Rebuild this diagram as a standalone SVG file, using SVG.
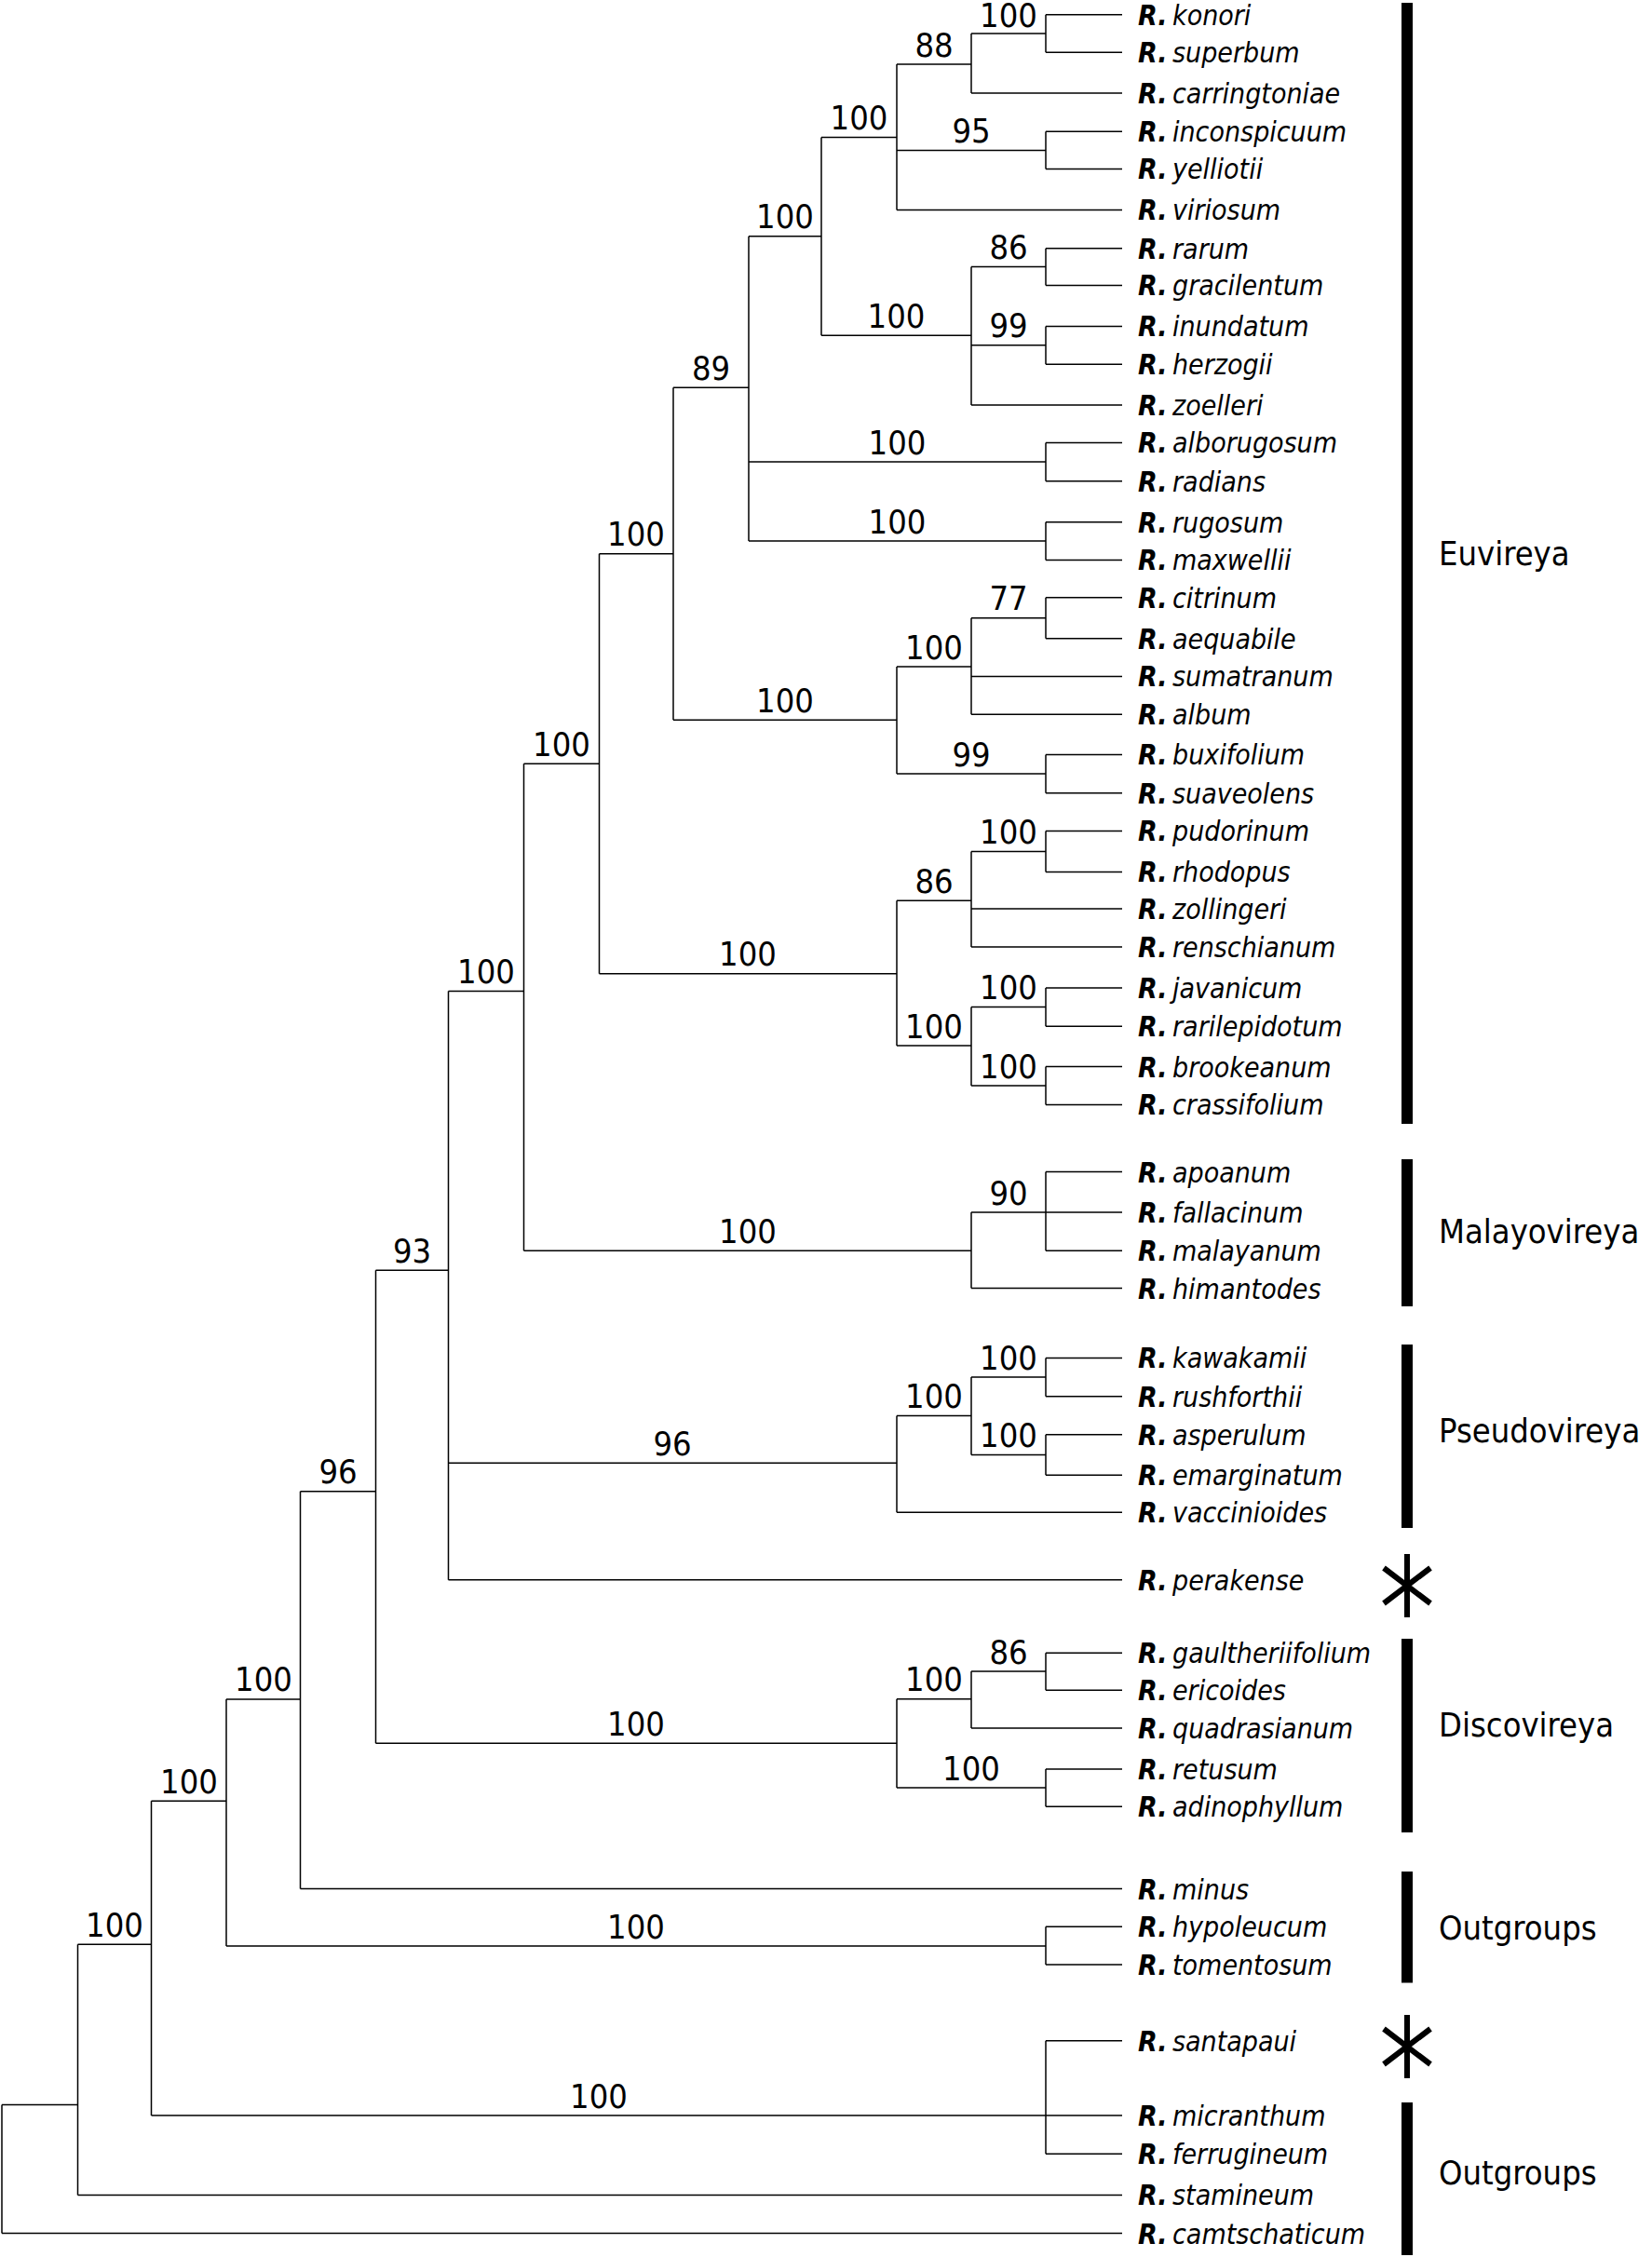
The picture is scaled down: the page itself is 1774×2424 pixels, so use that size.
<svg xmlns="http://www.w3.org/2000/svg" width="1774" height="2424" viewBox="0 0 1774 2424">
<style>
.br{fill:none;stroke:#000;stroke-width:1.5}
.bs{font-family:"DejaVu Sans Condensed","DejaVu Sans",sans-serif;font-stretch:condensed;font-size:36px;text-anchor:middle;fill:#000}
.tp{font-family:"DejaVu Sans Condensed","DejaVu Sans",sans-serif;font-stretch:condensed;font-size:30px;font-style:italic;fill:#000}
.gn{font-weight:bold}
.sp{font-size:1px}
.cl{font-family:"DejaVu Sans Condensed","DejaVu Sans",sans-serif;font-stretch:condensed;font-size:36px;fill:#000}
.bar{fill:#000}
.ast{fill:none;stroke:#000;stroke-width:6}
</style>
<rect width="1774" height="2424" fill="#fff"/>
<g id="connectors" class="br">
<path d="M2 2260.6V2398.6M2 2260.6H83.5M2 2398.6H1205"/>
<path d="M83.5 2088.2V2357.4M83.5 2088.2H162.5M83.5 2357.4H1205"/>
<path d="M162.5 1934.2V2272M162.5 1934.2H243M162.5 2272H1123"/>
<path d="M1123 2191.8V2313.2M1123 2191.8H1205M1123 2272H1205M1123 2313.2H1205"/>
<path d="M243 1825V2090M243 1825H322.5M243 2090H1123"/>
<path d="M1123 2069.3V2109.9M1123 2069.3H1205M1123 2109.9H1205"/>
<path d="M322.5 1601.8V2028.5M322.5 1601.8H403.5M322.5 2028.5H1205"/>
<path d="M403.5 1364.3V1872.3M403.5 1364.3H481.5M403.5 1872.3H963"/>
<path d="M963 1824.7V1920M963 1824.7H1043M963 1920H1123"/>
<path d="M1043 1795V1855.9M1043 1795H1123M1043 1855.9H1205"/>
<path d="M1123 1775.2V1815.3M1123 1775.2H1205M1123 1815.3H1205"/>
<path d="M1123 1900.1V1940.2M1123 1900.1H1205M1123 1940.2H1205"/>
<path d="M481.5 1064.5V1696.8M481.5 1064.5H562.5M481.5 1571.3H963M481.5 1696.8H1205"/>
<path d="M963 1520.6V1624.3M963 1520.6H1043M963 1624.3H1205"/>
<path d="M1043 1479V1562.5M1043 1479H1123M1043 1562.5H1123"/>
<path d="M1123 1458.4V1499.7M1123 1458.4H1205M1123 1499.7H1205"/>
<path d="M1123 1540.7V1584.3M1123 1540.7H1205M1123 1584.3H1205"/>
<path d="M562.5 820.3V1343.3M562.5 820.3H643.5M562.5 1343.3H1043"/>
<path d="M1043 1302V1383.5M1043 1302H1123M1043 1383.5H1205"/>
<path d="M1123 1258.6V1343.3M1123 1258.6H1205M1123 1302H1205M1123 1343.3H1205"/>
<path d="M643.5 594.7V1045.7M643.5 594.7H723M643.5 1045.7H963"/>
<path d="M963 967.3V1123M963 967.3H1043M963 1123H1043"/>
<path d="M1043 914.5V1017M1043 914.5H1123M1043 976.1H1205M1043 1017H1205"/>
<path d="M1123 892.5V936.4M1123 892.5H1205M1123 936.4H1205"/>
<path d="M1043 1081.5V1166M1043 1081.5H1123M1043 1166H1123"/>
<path d="M1123 1060.9V1102.2M1123 1060.9H1205M1123 1102.2H1205"/>
<path d="M1123 1145.6V1186.4M1123 1145.6H1205M1123 1186.4H1205"/>
<path d="M723 416.3V773.2M723 416.3H804M723 773.2H963"/>
<path d="M963 716V831M963 716H1043M963 831H1123"/>
<path d="M1043 663.7V767.3M1043 663.7H1123M1043 726.5H1205M1043 767.3H1205"/>
<path d="M1123 641.7V685.7M1123 641.7H1205M1123 685.7H1205"/>
<path d="M1123 810.5V851.7M1123 810.5H1205M1123 851.7H1205"/>
<path d="M804 253.7V581M804 253.7H882M804 496H1123M804 581H1123"/>
<path d="M1123 475.4V516.7M1123 475.4H1205M1123 516.7H1205"/>
<path d="M1123 560.7V601.5M1123 560.7H1205M1123 601.5H1205"/>
<path d="M882 147.5V360.3M882 147.5H963M882 360.3H1043"/>
<path d="M1043 286.6V435M1043 286.6H1123M1043 370.8H1123M1043 435H1205"/>
<path d="M1123 266.7V306.5M1123 266.7H1205M1123 306.5H1205"/>
<path d="M1123 350.4V391.2M1123 350.4H1205M1123 391.2H1205"/>
<path d="M963 69V225.4M963 69H1043M963 161.4H1123M963 225.4H1205"/>
<path d="M1043 36V99.9M1043 36H1123M1043 99.9H1205"/>
<path d="M1123 15.7V56.2M1123 15.7H1205M1123 56.2H1205"/>
<path d="M1123 141.2V181.5M1123 141.2H1205M1123 181.5H1205"/>
</g>
<g id="support" class="bs">
<g id="n-konori"><text x="1083" y="29">100</text></g>
<g id="n-88"><text x="1003" y="61">88</text></g>
<g id="n-95"><text x="1043" y="153">95</text></g>
<g id="n-K"><text x="922.5" y="139">100</text></g>
<g id="n-rarum"><text x="1083" y="278">86</text></g>
<g id="n-inundatum"><text x="1083" y="362">99</text></g>
<g id="n-rarumclade"><text x="962.5" y="352">100</text></g>
<g id="n-J"><text x="843" y="245">100</text></g>
<g id="n-alborugosum"><text x="963.5" y="488">100</text></g>
<g id="n-rugosum"><text x="963.5" y="573">100</text></g>
<g id="n-I"><text x="763.5" y="408">89</text></g>
<g id="n-citrinum"><text x="1083" y="655">77</text></g>
<g id="n-citrinumclade"><text x="1003" y="708">100</text></g>
<g id="n-buxifolium"><text x="1043" y="823">99</text></g>
<g id="n-citrinumbig"><text x="843" y="765">100</text></g>
<g id="n-H"><text x="683" y="586">100</text></g>
<g id="n-pudorinum"><text x="1083" y="906">100</text></g>
<g id="n-86b"><text x="1003" y="959">86</text></g>
<g id="n-javanicum"><text x="1083" y="1073">100</text></g>
<g id="n-brookeanum"><text x="1083" y="1158">100</text></g>
<g id="n-javanicumclade"><text x="1003" y="1115">100</text></g>
<g id="n-pudorinumbig"><text x="803" y="1037">100</text></g>
<g id="n-G"><text x="603" y="812">100</text></g>
<g id="n-90"><text x="1083" y="1294">90</text></g>
<g id="n-malayovireya"><text x="803" y="1335">100</text></g>
<g id="n-F"><text x="522" y="1056">100</text></g>
<g id="n-kawakamii"><text x="1083" y="1471">100</text></g>
<g id="n-asperulum"><text x="1083" y="1554">100</text></g>
<g id="n-pseudo1043"><text x="1003" y="1512">100</text></g>
<g id="n-pseudovireya"><text x="722" y="1563">96</text></g>
<g id="n-E"><text x="442.5" y="1356">93</text></g>
<g id="n-gaultheriifolium"><text x="1083" y="1787">86</text></g>
<g id="n-disc1043"><text x="1003" y="1816">100</text></g>
<g id="n-retusum"><text x="1043" y="1912">100</text></g>
<g id="n-discovireya"><text x="683" y="1864">100</text></g>
<g id="n-D"><text x="363" y="1593">96</text></g>
<g id="n-C"><text x="283" y="1816">100</text></g>
<g id="n-hypoleucum"><text x="683" y="2082">100</text></g>
<g id="n-B"><text x="203" y="1926">100</text></g>
<g id="n-santapaui"><text x="643" y="2264">100</text></g>
<g id="n-A"><text x="123" y="2080">100</text></g>
</g>
<g id="tips" class="tp">
<g id="t-konori"><text y="27"><tspan x="1222" class="gn">R.</tspan><tspan class="sp"> </tspan><tspan x="1259">konori</tspan></text></g>
<g id="t-superbum"><text y="67"><tspan x="1222" class="gn">R.</tspan><tspan class="sp"> </tspan><tspan x="1259">superbum</tspan></text></g>
<g id="t-carringtoniae"><text y="111"><tspan x="1222" class="gn">R.</tspan><tspan class="sp"> </tspan><tspan x="1259">carringtoniae</tspan></text></g>
<g id="t-inconspicuum"><text y="152"><tspan x="1222" class="gn">R.</tspan><tspan class="sp"> </tspan><tspan x="1259">inconspicuum</tspan></text></g>
<g id="t-yelliotii"><text y="192"><tspan x="1222" class="gn">R.</tspan><tspan class="sp"> </tspan><tspan x="1259">yelliotii</tspan></text></g>
<g id="t-viriosum"><text y="236"><tspan x="1222" class="gn">R.</tspan><tspan class="sp"> </tspan><tspan x="1259">viriosum</tspan></text></g>
<g id="t-rarum"><text y="278"><tspan x="1222" class="gn">R.</tspan><tspan class="sp"> </tspan><tspan x="1259">rarum</tspan></text></g>
<g id="t-gracilentum"><text y="317"><tspan x="1222" class="gn">R.</tspan><tspan class="sp"> </tspan><tspan x="1259">gracilentum</tspan></text></g>
<g id="t-inundatum"><text y="361"><tspan x="1222" class="gn">R.</tspan><tspan class="sp"> </tspan><tspan x="1259">inundatum</tspan></text></g>
<g id="t-herzogii"><text y="402"><tspan x="1222" class="gn">R.</tspan><tspan class="sp"> </tspan><tspan x="1259">herzogii</tspan></text></g>
<g id="t-zoelleri"><text y="446"><tspan x="1222" class="gn">R.</tspan><tspan class="sp"> </tspan><tspan x="1259">zoelleri</tspan></text></g>
<g id="t-alborugosum"><text y="486"><tspan x="1222" class="gn">R.</tspan><tspan class="sp"> </tspan><tspan x="1259">alborugosum</tspan></text></g>
<g id="t-radians"><text y="528"><tspan x="1222" class="gn">R.</tspan><tspan class="sp"> </tspan><tspan x="1259">radians</tspan></text></g>
<g id="t-rugosum"><text y="572"><tspan x="1222" class="gn">R.</tspan><tspan class="sp"> </tspan><tspan x="1259">rugosum</tspan></text></g>
<g id="t-maxwellii"><text y="612"><tspan x="1222" class="gn">R.</tspan><tspan class="sp"> </tspan><tspan x="1259">maxwellii</tspan></text></g>
<g id="t-citrinum"><text y="653"><tspan x="1222" class="gn">R.</tspan><tspan class="sp"> </tspan><tspan x="1259">citrinum</tspan></text></g>
<g id="t-aequabile"><text y="697"><tspan x="1222" class="gn">R.</tspan><tspan class="sp"> </tspan><tspan x="1259">aequabile</tspan></text></g>
<g id="t-sumatranum"><text y="737"><tspan x="1222" class="gn">R.</tspan><tspan class="sp"> </tspan><tspan x="1259">sumatranum</tspan></text></g>
<g id="t-album"><text y="778"><tspan x="1222" class="gn">R.</tspan><tspan class="sp"> </tspan><tspan x="1259">album</tspan></text></g>
<g id="t-buxifolium"><text y="821"><tspan x="1222" class="gn">R.</tspan><tspan class="sp"> </tspan><tspan x="1259">buxifolium</tspan></text></g>
<g id="t-suaveolens"><text y="863"><tspan x="1222" class="gn">R.</tspan><tspan class="sp"> </tspan><tspan x="1259">suaveolens</tspan></text></g>
<g id="t-pudorinum"><text y="903"><tspan x="1222" class="gn">R.</tspan><tspan class="sp"> </tspan><tspan x="1259">pudorinum</tspan></text></g>
<g id="t-rhodopus"><text y="947"><tspan x="1222" class="gn">R.</tspan><tspan class="sp"> </tspan><tspan x="1259">rhodopus</tspan></text></g>
<g id="t-zollingeri"><text y="987"><tspan x="1222" class="gn">R.</tspan><tspan class="sp"> </tspan><tspan x="1259">zollingeri</tspan></text></g>
<g id="t-renschianum"><text y="1028"><tspan x="1222" class="gn">R.</tspan><tspan class="sp"> </tspan><tspan x="1259">renschianum</tspan></text></g>
<g id="t-javanicum"><text y="1072"><tspan x="1222" class="gn">R.</tspan><tspan class="sp"> </tspan><tspan x="1259">javanicum</tspan></text></g>
<g id="t-rarilepidotum"><text y="1113"><tspan x="1222" class="gn">R.</tspan><tspan class="sp"> </tspan><tspan x="1259">rarilepidotum</tspan></text></g>
<g id="t-brookeanum"><text y="1157"><tspan x="1222" class="gn">R.</tspan><tspan class="sp"> </tspan><tspan x="1259">brookeanum</tspan></text></g>
<g id="t-crassifolium"><text y="1197"><tspan x="1222" class="gn">R.</tspan><tspan class="sp"> </tspan><tspan x="1259">crassifolium</tspan></text></g>
<g id="t-apoanum"><text y="1270"><tspan x="1222" class="gn">R.</tspan><tspan class="sp"> </tspan><tspan x="1259">apoanum</tspan></text></g>
<g id="t-fallacinum"><text y="1313"><tspan x="1222" class="gn">R.</tspan><tspan class="sp"> </tspan><tspan x="1259">fallacinum</tspan></text></g>
<g id="t-malayanum"><text y="1354"><tspan x="1222" class="gn">R.</tspan><tspan class="sp"> </tspan><tspan x="1259">malayanum</tspan></text></g>
<g id="t-himantodes"><text y="1395"><tspan x="1222" class="gn">R.</tspan><tspan class="sp"> </tspan><tspan x="1259">himantodes</tspan></text></g>
<g id="t-kawakamii"><text y="1469"><tspan x="1222" class="gn">R.</tspan><tspan class="sp"> </tspan><tspan x="1259">kawakamii</tspan></text></g>
<g id="t-rushforthii"><text y="1511"><tspan x="1222" class="gn">R.</tspan><tspan class="sp"> </tspan><tspan x="1259">rushforthii</tspan></text></g>
<g id="t-asperulum"><text y="1552"><tspan x="1222" class="gn">R.</tspan><tspan class="sp"> </tspan><tspan x="1259">asperulum</tspan></text></g>
<g id="t-emarginatum"><text y="1595"><tspan x="1222" class="gn">R.</tspan><tspan class="sp"> </tspan><tspan x="1259">emarginatum</tspan></text></g>
<g id="t-vaccinioides"><text y="1635"><tspan x="1222" class="gn">R.</tspan><tspan class="sp"> </tspan><tspan x="1259">vaccinioides</tspan></text></g>
<g id="t-perakense"><text y="1708"><tspan x="1222" class="gn">R.</tspan><tspan class="sp"> </tspan><tspan x="1259">perakense</tspan></text></g>
<g id="t-gaultheriifolium"><text y="1786"><tspan x="1222" class="gn">R.</tspan><tspan class="sp"> </tspan><tspan x="1259">gaultheriifolium</tspan></text></g>
<g id="t-ericoides"><text y="1826"><tspan x="1222" class="gn">R.</tspan><tspan class="sp"> </tspan><tspan x="1259">ericoides</tspan></text></g>
<g id="t-quadrasianum"><text y="1867"><tspan x="1222" class="gn">R.</tspan><tspan class="sp"> </tspan><tspan x="1259">quadrasianum</tspan></text></g>
<g id="t-retusum"><text y="1911"><tspan x="1222" class="gn">R.</tspan><tspan class="sp"> </tspan><tspan x="1259">retusum</tspan></text></g>
<g id="t-adinophyllum"><text y="1951"><tspan x="1222" class="gn">R.</tspan><tspan class="sp"> </tspan><tspan x="1259">adinophyllum</tspan></text></g>
<g id="t-minus"><text y="2040"><tspan x="1222" class="gn">R.</tspan><tspan class="sp"> </tspan><tspan x="1259">minus</tspan></text></g>
<g id="t-hypoleucum"><text y="2080"><tspan x="1222" class="gn">R.</tspan><tspan class="sp"> </tspan><tspan x="1259">hypoleucum</tspan></text></g>
<g id="t-tomentosum"><text y="2121"><tspan x="1222" class="gn">R.</tspan><tspan class="sp"> </tspan><tspan x="1259">tomentosum</tspan></text></g>
<g id="t-santapaui"><text y="2203"><tspan x="1222" class="gn">R.</tspan><tspan class="sp"> </tspan><tspan x="1259">santapaui</tspan></text></g>
<g id="t-micranthum"><text y="2283"><tspan x="1222" class="gn">R.</tspan><tspan class="sp"> </tspan><tspan x="1259">micranthum</tspan></text></g>
<g id="t-ferrugineum"><text y="2324"><tspan x="1222" class="gn">R.</tspan><tspan class="sp"> </tspan><tspan x="1259">ferrugineum</tspan></text></g>
<g id="t-stamineum"><text y="2368"><tspan x="1222" class="gn">R.</tspan><tspan class="sp"> </tspan><tspan x="1259">stamineum</tspan></text></g>
<g id="t-camtschaticum"><text y="2410"><tspan x="1222" class="gn">R.</tspan><tspan class="sp"> </tspan><tspan x="1259">camtschaticum</tspan></text></g>
</g>
<g id="clades">
<g id="c-euvireya"><rect class="bar" x="1505" y="3" width="12" height="1204"/><text class="cl" x="1545" y="607">Euvireya</text></g>
<g id="c-malayovireya"><rect class="bar" x="1505" y="1245" width="12" height="158"/><text class="cl" x="1545" y="1335">Malayovireya</text></g>
<g id="c-pseudovireya"><rect class="bar" x="1505" y="1444" width="12" height="197"/><text class="cl" x="1545" y="1549">Pseudovireya</text></g>
<g id="c-perakense"><path class="ast" d="M1511 1669V1737M1486 1684L1536 1722M1486 1722L1536 1684"/></g>
<g id="c-discovireya"><rect class="bar" x="1505" y="1760" width="12" height="208"/><text class="cl" x="1545" y="1865">Discovireya</text></g>
<g id="c-outgroups1"><rect class="bar" x="1505" y="2010" width="12" height="119.5"/><text class="cl" x="1545" y="2082.5">Outgroups</text></g>
<g id="c-santapaui"><path class="ast" d="M1511 2164V2232M1486 2179L1536 2217M1486 2217L1536 2179"/></g>
<g id="c-outgroups2"><rect class="bar" x="1505" y="2258" width="12" height="164"/><text class="cl" x="1545" y="2346">Outgroups</text></g>
</g>
</svg>
